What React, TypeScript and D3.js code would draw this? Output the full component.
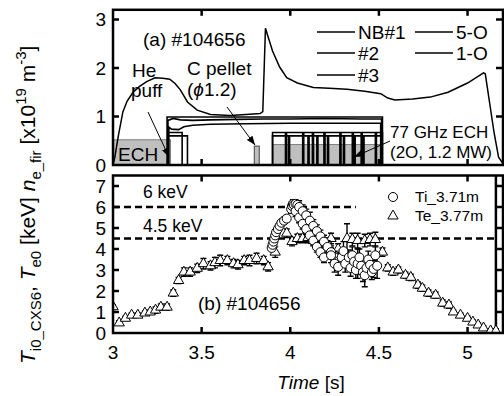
import { useEffect, useRef } from 'react';
import * as d3 from 'd3';

const WIDTH = 504;
const HEIGHT = 396;

// (a) line-averaged density n_e_fir [1e19 m^-3]
const neTime = [
  3.0, 3.01, 3.03, 3.056, 3.08, 3.113, 3.15, 3.19, 3.237, 3.28, 3.32, 3.35, 3.38, 3.42, 3.475, 3.55,
  3.66, 3.75, 3.83, 3.845, 3.86, 3.87, 3.9, 3.94, 3.98, 4.04, 4.13, 4.22, 4.32, 4.42, 4.51, 4.55,
  4.59, 4.69, 4.79, 4.89, 5.0, 5.09, 5.1, 5.15, 5.175, 5.2
];
const neValue = [
  0.0, 0.15, 0.6, 1.1, 1.32, 1.5, 1.62, 1.72, 1.8, 1.79, 1.77, 1.68, 1.55, 1.3, 1.13, 1.04,
  1.02, 1.04, 1.06, 1.1, 2.82, 2.7, 2.35, 2.02, 1.8, 1.69, 1.6, 1.58, 1.56, 1.52, 1.47, 1.38,
  1.34, 1.36, 1.4, 1.5, 1.69, 1.9, 1.88, 0.66, 0.16, 0.03
];

// NBI port-through powers (arb.)
const nb1Trace: [number, number][] = [[3.305, 0], [3.305, 0.99], [4.52, 0.99], [4.52, 0]];
const nb2Trace: [number, number][] = [
  [3.31, 0], [3.31, 0.92], [3.34, 0.96], [3.38, 0.93], [3.45, 0.92], [3.55, 0.93], [3.7, 0.94],
  [3.85, 0.95], [4.0, 0.95], [4.2, 0.96], [4.4, 0.95], [4.515, 0.95], [4.515, 0]
];
const nb3Trace: [number, number][] = [
  [3.315, 0], [3.315, 0.78], [3.33, 0.74], [3.37, 0.73], [3.4, 0.79], [3.45, 0.82], [3.55, 0.84],
  [3.75, 0.85], [4.0, 0.86], [4.3, 0.86], [4.51, 0.86], [4.51, 0]
];

// ECH antennas 5-O / 1-O: on windows, level and short off notches
const ech5OWindows: [number, number][] = [[3.31, 3.39], [3.9, 4.52]];
const ech5OLevel = 0.67;
const ech5ONotches = [3.973, 4.07, 4.125, 4.19, 4.28, 4.35, 4.4, 4.48];
const ech1OWindows: [number, number][] = [[3.31, 3.42], [3.9, 4.515]];
const ech1OLevel = 0.6;
const ech1ONotches = [3.99, 4.1, 4.15, 4.21, 4.3, 4.36, 4.41];

// grey ECH power blocks
const echStart = [3.0, 3.9];
const echEnd = [3.325, 4.52];
const echPower = [0.52, 0.42];
const pelletTime: [number, number] = [3.797, 3.825];
const pelletSignal = 0.39;

// (b) Te0 (triangles)
const teTime = [
  3.0, 3.035, 3.07, 3.105, 3.14, 3.18, 3.21, 3.24, 3.27, 3.305, 3.34, 3.37, 3.4, 3.435, 3.475, 3.51,
  3.55, 3.575, 3.605, 3.645, 3.68, 3.705, 3.74, 3.77, 3.81, 3.85, 3.875, 3.915, 3.98, 4.01, 4.04,
  4.07, 4.1, 4.13, 4.16, 4.19, 4.23, 4.27, 4.32, 4.35, 4.38, 4.42, 4.45, 4.48, 4.52, 4.55, 4.58,
  4.61, 4.65, 4.68, 4.72, 4.745, 4.78, 4.82, 4.86, 4.895, 4.92, 4.96, 5.0, 5.03, 5.06, 5.09, 5.13, 5.16
];
const teValue = [
  1.25, 0.48, 0.7, 0.85, 0.85, 0.95, 1.0, 1.09, 1.23, 1.23, 1.9, 2.5, 2.9, 2.9, 3.08, 3.3,
  3.2, 3.35, 3.45, 3.45, 3.3, 3.25, 3.45, 3.45, 3.55, 3.45, 3.15, 3.85, 4.75, 4.35, 4.5,
  4.5, 4.55, 4.4, 4.45, 4.4, 4.5, 4.0, 4.5, 4.45, 4.4, 4.4, 4.45, 4.45, 3.85, 3.1, 2.9,
  3.0, 2.75, 2.65, 2.28, 2.13, 1.9, 1.8, 1.42, 1.33, 1.0, 0.85, 0.7, 0.52, 0.38, 0.24, 0.1, 0.1
];
const teError = [
  0.1, 0.1, 0.1, 0.1, 0.1, 0.1, 0.1, 0.15, 0.15, 0.15, 0.15, 0.15, 0.2, 0.2, 0.2, 0.25,
  0.2, 0.25, 0.25, 0.2, 0.2, 0.2, 0.2, 0.25, 0.25, 0.2, 0.2, 0.25, 0.2, 0.2, 0.2,
  0.2, 0.25, 0.2, 0.2, 0.25, 0.25, 0.25, 0.7, 0.3, 0.35, 0.3, 0.3, 0.35, 0.2, 0.15, 0.15,
  0.15, 0.15, 0.15, 0.15, 0.15, 0.15, 0.15, 0.15, 0.15, 0.1, 0.1, 0.1, 0.1, 0.1, 0.1, 0.1, 0.1
];

// (b) Ti0 CXS (circles)
const tiTime = [
  3.895, 3.9, 3.905, 3.91, 3.915, 3.92, 3.93, 3.94, 3.95, 3.965, 3.98,
  4.005, 4.01, 4.015, 4.02, 4.03, 4.04,
  4.03, 4.05, 4.07, 4.09, 4.11, 4.13, 4.15, 4.17, 4.19,
  4.05, 4.07, 4.09, 4.11, 4.13, 4.15, 4.17, 4.19, 4.21, 4.23, 4.25, 4.27,
  4.23, 4.25, 4.27, 4.29, 4.3, 4.31, 4.33, 4.34, 4.35, 4.36, 4.37, 4.38, 4.39, 4.4, 4.41, 4.42,
  4.43, 4.44, 4.45, 4.46, 4.47, 4.48, 4.49
];
const tiValue = [
  4.05, 4.2, 4.35, 4.5, 4.65, 4.8, 4.95, 5.1, 5.25, 5.35, 5.45,
  5.9, 6.05, 6.15, 6.1, 6.15, 6.1,
  5.8, 5.5, 5.2, 4.95, 4.65, 4.4, 4.1, 3.85, 3.6,
  6.0, 5.8, 5.6, 5.35, 5.1, 4.85, 4.6, 4.35, 4.1, 3.85, 3.6, 3.4,
  3.7, 3.3, 3.15, 3.6, 3.9, 3.3, 3.6, 3.1, 3.7, 3.4, 3.0, 3.3, 3.6, 3.2, 2.9, 2.75,
  3.1, 3.5, 3.25, 2.9, 3.05, 3.7, 3.2
];
const tiError = [
  0.15, 0.15, 0.15, 0.15, 0.15, 0.15, 0.15, 0.15, 0.15, 0.15, 0.15,
  0.2, 0.2, 0.2, 0.2, 0.2, 0.2,
  0.25, 0.25, 0.25, 0.25, 0.25, 0.25, 0.25, 0.25, 0.25,
  0.3, 0.3, 0.3, 0.4, 0.3, 0.3, 0.3, 0.3, 0.3, 0.3, 0.3, 0.3,
  0.35, 0.4, 0.4, 0.35, 0.45, 0.4, 0.35, 0.4, 0.4, 0.35, 0.4, 0.7, 0.4, 0.4, 0.45, 0.55,
  0.35, 0.4, 0.4, 0.35, 0.4, 0.45, 0.6
];

const refLevels = [6, 4.5];
const refLevelEnd = [4.37, 5.15];
const dischargeEnd = 5.16;

const xTicks = [3, 3.5, 4, 4.5, 5];
const yTopTicks = [0, 1, 2, 3];
const yBottomTicks = [0, 1, 2, 3, 4, 5, 6, 7];

const FONT = 'Arial, "Liberation Sans", Helvetica, sans-serif';

type Sel = d3.Selection<SVGSVGElement, unknown, null, undefined>;

const buildModulated = (windows: [number, number][], level: number, notches: number[]) => {
  const pts: [number, number][] = [];
  windows.forEach(([a, b]) => {
    pts.push([a, 0], [a, level]);
    notches
      .filter((n) => n > a && n < b)
      .forEach((n) => {
        pts.push([n, level], [n, 0], [n + 0.006, 0], [n + 0.006, level]);
      });
    pts.push([b, level], [b, 0]);
  });
  return pts;
};

export default function App() {
  const svgRef = useRef<SVGSVGElement>(null);

  const drawChart = (svgNode: SVGSVGElement) => {
    const svgEl: Sel = d3.select(svgNode);
    svgEl.selectAll('*').remove();
    svgEl.style('font-family', FONT).style('background', '#fff');

    const x = d3.scaleLinear().domain([3, 5.2]).range([113, 503]);
    const yTop = d3.scaleLinear().domain([0, 3.2]).range([165, 9.8]);
    const yBot = d3.scaleLinear().domain([0, 7.5]).range([333, 175.5]);

    const defs = svgEl.append('defs');
    defs
      .append('marker')
      .attr('id', 'arrow')
      .attr('markerUnits', 'userSpaceOnUse')
      .attr('markerWidth', 9)
      .attr('markerHeight', 7)
      .attr('refX', 9)
      .attr('refY', 3.5)
      .attr('orient', 'auto')
      .append('path')
      .attr('d', 'M0,0 L9,3.5 L0,7 Z')
      .attr('fill', '#000');
    defs
      .append('clipPath')
      .attr('id', 'clipTop')
      .append('rect')
      .attr('x', x(3))
      .attr('y', yTop(3.2))
      .attr('width', x(5.2) - x(3))
      .attr('height', yTop(0) - yTop(3.2));
    defs
      .append('clipPath')
      .attr('id', 'clipBot')
      .append('rect')
      .attr('x', x(3))
      .attr('y', yBot(7.5))
      .attr('width', x(5.2) - x(3))
      .attr('height', yBot(0) - yBot(7.5));

    // ---------- top panel ----------
    const top = svgEl.append('g').attr('clip-path', 'url(#clipTop)');

    top
      .selectAll('rect.ech')
      .data(echStart)
      .enter()
      .append('rect')
      .attr('x', (d) => x(d))
      .attr('width', (d, i) => x(echEnd[i]) - x(d))
      .attr('y', (_, i) => yTop(echPower[i]))
      .attr('height', (_, i) => yTop(0) - yTop(echPower[i]))
      .attr('fill', '#bfbfbf')
      .attr('stroke', '#666')
      .attr('stroke-width', 0.8);

    top
      .append('rect')
      .attr('x', x(pelletTime[0]))
      .attr('width', x(pelletTime[1]) - x(pelletTime[0]))
      .attr('y', yTop(pelletSignal))
      .attr('height', yTop(0) - yTop(pelletSignal))
      .attr('fill', '#bfbfbf')
      .attr('stroke', '#444')
      .attr('stroke-width', 1);

    const traceLine = d3
      .line<[number, number]>()
      .x((d) => x(d[0]))
      .y((d) => yTop(d[1]));

    const traces = [
      nb1Trace,
      nb2Trace,
      nb3Trace,
      buildModulated(ech5OWindows, ech5OLevel, ech5ONotches),
      buildModulated(ech1OWindows, ech1OLevel, ech1ONotches)
    ];
    top
      .selectAll('path.trace')
      .data(traces)
      .enter()
      .append('path')
      .attr('d', (d) => traceLine(d))
      .attr('fill', 'none')
      .attr('stroke', '#000')
      .attr('stroke-width', 1.6);

    const neLine = d3
      .line<number>()
      .x((d) => x(d))
      .y((_, i) => yTop(neValue[i]));
    top
      .append('path')
      .attr('d', neLine(neTime))
      .attr('fill', 'none')
      .attr('stroke', '#000')
      .attr('stroke-width', 1.5);

    // ---------- bottom panel ----------
    const bot = svgEl.append('g').attr('clip-path', 'url(#clipBot)');

    bot
      .selectAll('line.ref')
      .data(refLevels)
      .enter()
      .append('line')
      .attr('x1', x(3))
      .attr('x2', (_, i) => x(refLevelEnd[i]))
      .attr('y1', (d) => yBot(d))
      .attr('y2', (d) => yBot(d))
      .attr('stroke', '#000')
      .attr('stroke-width', 2.5)
      .attr('stroke-dasharray', '7 4');

    bot
      .append('line')
      .attr('x1', x(dischargeEnd))
      .attr('x2', x(dischargeEnd))
      .attr('y1', yBot(0))
      .attr('y2', yBot(7.5))
      .attr('stroke', '#000')
      .attr('stroke-width', 2.5);

    const drawErrors = (times: number[], vals: number[], errs: number[]) => {
      const g = bot.append('g').attr('stroke', '#000').attr('stroke-width', 1.4);
      times.forEach((t, i) => {
        const cx = x(t);
        const y1 = yBot(vals[i] + errs[i]);
        const y2 = yBot(vals[i] - errs[i]);
        g.append('line').attr('x1', cx).attr('x2', cx).attr('y1', y1).attr('y2', y2);
        g.append('line').attr('x1', cx - 3).attr('x2', cx + 3).attr('y1', y1).attr('y2', y1);
        g.append('line').attr('x1', cx - 3).attr('x2', cx + 3).attr('y1', y2).attr('y2', y2);
      });
    };

    const triangle = d3.symbol().type(d3.symbolTriangle).size(46);

    drawErrors(teTime, teValue, teError);
    bot
      .selectAll('path.te')
      .data(teTime)
      .enter()
      .append('path')
      .attr('d', triangle() as string)
      .attr('transform', (d, i) => `translate(${x(d)},${yBot(teValue[i])})`)
      .attr('fill', '#fff')
      .attr('stroke', '#000')
      .attr('stroke-width', 1);

    drawErrors(tiTime, tiValue, tiError);
    bot
      .selectAll('circle.ti')
      .data(tiTime)
      .enter()
      .append('circle')
      .attr('cx', (d) => x(d))
      .attr('cy', (_, i) => yBot(tiValue[i]))
      .attr('r', 4.5)
      .attr('fill', '#fff')
      .attr('stroke', '#000')
      .attr('stroke-width', 1);

    // ---------- frames & ticks ----------
    const frames = [
      { y: yTop, lo: 0, hi: 3.2, ticks: yTopTicks },
      { y: yBot, lo: 0, hi: 7.5, ticks: yBottomTicks }
    ];
    frames.forEach(({ y, lo, hi, ticks }) => {
      const g = svgEl.append('g').attr('stroke', '#000');
      g.append('rect')
        .attr('x', x(3))
        .attr('y', y(hi))
        .attr('width', x(5.2) - x(3))
        .attr('height', y(lo) - y(hi))
        .attr('fill', 'none')
        .attr('stroke-width', 2.5);
      xTicks
        .filter((t) => t > 3)
        .forEach((t) => {
          g.append('line').attr('x1', x(t)).attr('x2', x(t)).attr('y1', y(lo)).attr('y2', y(lo) - 6).attr('stroke-width', 2.5);
          g.append('line').attr('x1', x(t)).attr('x2', x(t)).attr('y1', y(hi)).attr('y2', y(hi) + 6).attr('stroke-width', 2.5);
        });
      ticks
        .filter((v) => v > lo)
        .forEach((v) => {
          g.append('line').attr('x1', x(3)).attr('x2', x(3) + 6).attr('y1', y(v)).attr('y2', y(v)).attr('stroke-width', 2.5);
          g.append('line').attr('x1', x(5.2)).attr('x2', x(5.2) - 7).attr('y1', y(v)).attr('y2', y(v)).attr('stroke-width', 2.5);
        });
      svgEl
        .append('g')
        .selectAll('text')
        .data(ticks)
        .enter()
        .append('text')
        .attr('x', 106)
        .attr('y', (d) => y(d))
        .attr('dy', '0.36em')
        .attr('text-anchor', 'end')
        .attr('font-size', 19)
        .text((d) => d);
    });

    svgEl
      .append('g')
      .selectAll('text')
      .data(xTicks)
      .enter()
      .append('text')
      .attr('x', (d) => x(d))
      .attr('y', 359)
      .attr('text-anchor', 'middle')
      .attr('font-size', 19)
      .text((d) => d);

    const xLabel = svgEl.append('text').attr('x', 311).attr('y', 389).attr('text-anchor', 'middle').attr('font-size', 19);
    xLabel.append('tspan').attr('font-style', 'italic').text('Time');
    xLabel.append('tspan').text(' [s]');

    // y label
    const yLabel = svgEl
      .append('text')
      .attr('transform', 'translate(35, 364) rotate(-90)')
      .attr('font-size', 21)
      .style('white-space', 'pre');
    const parts: [string, 'main' | 'sub' | 'sup', boolean][] = [
      ['T', 'main', true],
      ['i0_CXS6', 'sub', false],
      [', ', 'main', false],
      ['T', 'main', true],
      ['e0', 'sub', false],
      [' [keV] ', 'main', false],
      ['n', 'main', true],
      ['e_fir', 'sub', false],
      [' [x10', 'main', false],
      ['19', 'sup', false],
      [' m', 'main', false],
      ['-3', 'sup', false],
      [']', 'main', false]
    ];
    let shift = 0;
    parts.forEach(([txt, kind, italic]) => {
      const target = kind === 'sub' ? 6 : kind === 'sup' ? -9 : 0;
      yLabel
        .append('tspan')
        .attr('dy', target - shift)
        .attr('font-size', kind === 'main' ? 21 : 15)
        .attr('font-style', italic ? 'italic' : 'normal')
        .text(txt);
      shift = target;
    });

    // ---------- annotations ----------
    const addText = (tx: number, ty: number, txt: string, size: number) =>
      svgEl.append('text').attr('x', tx).attr('y', ty).attr('font-size', size).style('white-space', 'pre').text(txt);

    addText(143, 46, '(a) #104656', 19);
    addText(132, 77, 'He', 19);
    addText(131, 97, 'puff', 19);
    addText(187, 75, 'C pellet', 19);
    const phi = svgEl.append('text').attr('x', 187).attr('y', 96).attr('font-size', 19);
    phi.append('tspan').text('(');
    phi.append('tspan').attr('font-style', 'italic').text('\u03d5');
    phi.append('tspan').text('1.2)');
    addText(118, 161, 'ECH', 19);
    addText(390, 138, '77 GHz ECH', 17);
    addText(390, 158, '(2O, 1.2 MW)', 17);

    const arrows = [
      [148, 112, 169, 157],
      [227, 107, 255, 145],
      [390, 141, 354, 157]
    ];
    svgEl
      .append('g')
      .selectAll('line')
      .data(arrows)
      .enter()
      .append('line')
      .attr('x1', (d) => d[0])
      .attr('y1', (d) => d[1])
      .attr('x2', (d) => d[2])
      .attr('y2', (d) => d[3])
      .attr('stroke', '#000')
      .attr('stroke-width', 1)
      .attr('marker-end', 'url(#arrow)');

    // top legend
    const legendTop = [
      { label: 'NB#1', lx: 317, ly: 32 },
      { label: '#2', lx: 317, ly: 53 },
      { label: '#3', lx: 317, ly: 75 },
      { label: '5-O', lx: 415, ly: 32 },
      { label: '1-O', lx: 415, ly: 53 }
    ];
    legendTop.forEach(({ label, lx, ly }) => {
      svgEl.append('line').attr('x1', lx).attr('x2', lx + 38).attr('y1', ly).attr('y2', ly).attr('stroke', '#000').attr('stroke-width', 1.5);
      addText(lx + 41, ly + 7, label, 19);
    });

    // bottom legend
    addText(143, 198, '6 keV', 17.5);
    addText(143, 232, '4.5 keV', 17.5);
    addText(198, 310, '(b) #104656', 19);
    svgEl.append('circle').attr('cx', 393).attr('cy', 197).attr('r', 4.5).attr('fill', '#fff').attr('stroke', '#000');
    addText(415, 202, 'Ti_3.71m', 15.5);
    svgEl
      .append('path')
      .attr('d', triangle() as string)
      .attr('transform', 'translate(393,216)')
      .attr('fill', '#fff')
      .attr('stroke', '#000');
    addText(415, 221, 'Te_3.77m', 15.5);
  };

  useEffect(() => {
    if (!svgRef.current) return;
    drawChart(svgRef.current);
  }, []);

  return (
    <div style={{ position: 'absolute', left: 0, top: 0 }}>
      <svg ref={svgRef} width={WIDTH} height={HEIGHT} />
    </div>
  );
}
